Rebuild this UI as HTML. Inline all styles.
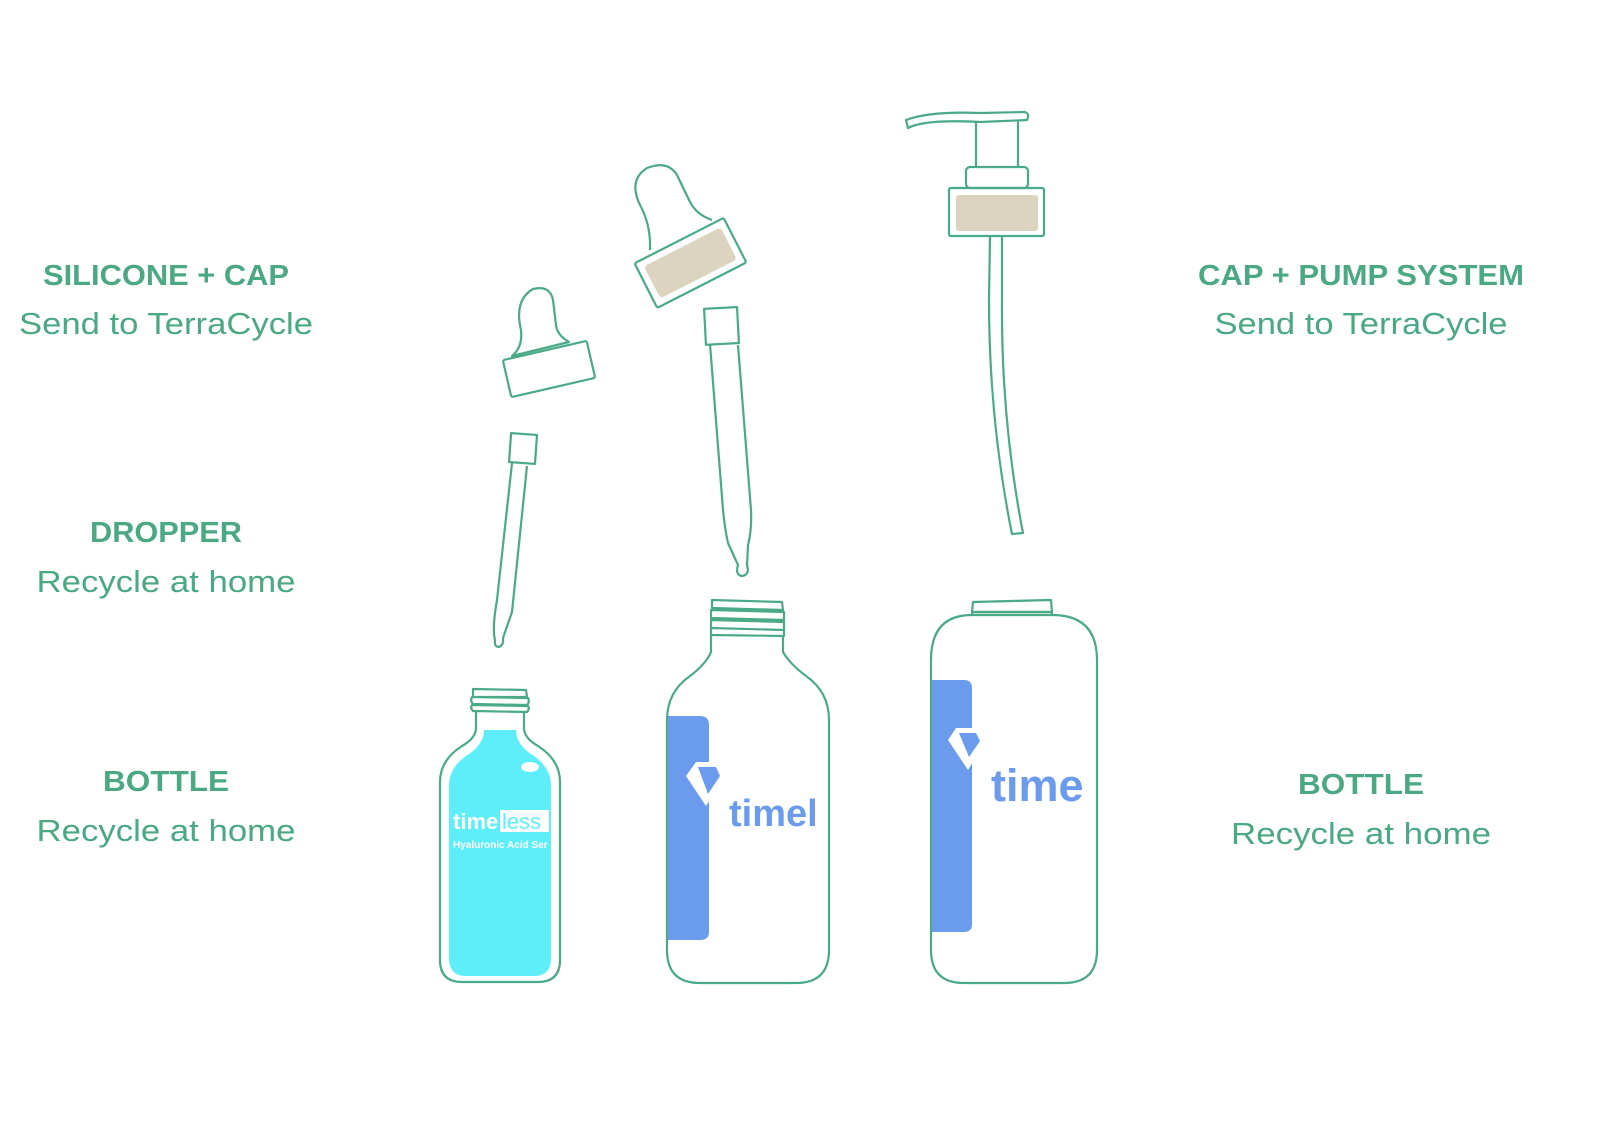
<!DOCTYPE html>
<html><head><meta charset="utf-8"><style>html,body{margin:0;padding:0;background:#fff}svg{display:block}</style></head>
<body>
<svg width="1601" height="1134" viewBox="0 0 1601 1134" xmlns="http://www.w3.org/2000/svg" font-family="Liberation Sans, sans-serif">
<g fill="#4aa882" text-anchor="middle">
<text x="166" y="285" font-size="29" font-weight="bold" textLength="246" lengthAdjust="spacingAndGlyphs">SILICONE + CAP</text>
<text x="166" y="334" font-size="31" textLength="294" lengthAdjust="spacingAndGlyphs">Send to TerraCycle</text>
<text x="166" y="542" font-size="29" font-weight="bold" textLength="152" lengthAdjust="spacingAndGlyphs">DROPPER</text>
<text x="166" y="592" font-size="31" textLength="259" lengthAdjust="spacingAndGlyphs">Recycle at home</text>
<text x="166" y="791" font-size="29" font-weight="bold" textLength="126" lengthAdjust="spacingAndGlyphs">BOTTLE</text>
<text x="166" y="841" font-size="31" textLength="259" lengthAdjust="spacingAndGlyphs">Recycle at home</text>
<text x="1361" y="285" font-size="29" font-weight="bold" textLength="326" lengthAdjust="spacingAndGlyphs">CAP + PUMP SYSTEM</text>
<text x="1361" y="334" font-size="31" textLength="293" lengthAdjust="spacingAndGlyphs">Send to TerraCycle</text>
<text x="1361" y="794" font-size="29" font-weight="bold" textLength="126" lengthAdjust="spacingAndGlyphs">BOTTLE</text>
<text x="1361" y="844" font-size="31" textLength="260" lengthAdjust="spacingAndGlyphs">Recycle at home</text>
</g>
<g fill="none" stroke="#4aaa85" stroke-width="2.2" stroke-linejoin="round">
<!-- small bottle -->
<path d="M476,712 L476,728 Q476,738 462,746 Q440,760 440,782 L440,960 Q440,982 462,982 L538,982 Q560,982 560,960 L560,782 Q560,760 538,746 Q524,738 524,728 L524,712" />
<path d="M449,786 Q449,768 466,756 Q484,745 484,730 L516,730 Q516,745 534,756 Q551,768 551,786 L551,958 Q551,976 534,976 L466,976 Q449,976 449,958 Z" fill="#5eeefa" stroke="none"/>
<path d="M473,689 L526,690 L527,697 L473,697 Z M472,697 L528,698 Q530,702 527,705 L473,704 Q470,701 472,697 Z M472,705 L528,706 Q530,709 527,712 L473,711 Q470,708 472,705 Z"/>
<!-- small dropper -->
<path d="M521,330 Q514,300 533,289 Q550,285 553,300 L556,325 Q557,335 569,342 L512,356 Q523,347 521,330 Z"/>
<g transform="rotate(-13 549 369)"><rect x="506" y="350" width="86" height="38" rx="2"/></g>
<rect x="510" y="434" width="26" height="29" transform="rotate(4 523 449)"/>
<path d="M512,463 L497,600 Q492,628 495,640 Q494,647 499,647 Q504,645 503,638 L512,612 L527,466"/>
<!-- medium bottle -->
<path d="M711,635 L711,652 Q706,664 690,676 Q667,692 667,720 L667,950 Q667,983 700,983 L796,983 Q829,983 829,950 L829,720 Q829,692 806,676 Q790,664 783,652 L783,635"/>
<path d="M712,600 L782,602 L783,610 L712,608 Z M711,610 L784,612 L784,620 L711,618 Z M711,620 L784,622 L784,630 L711,628 Z M711,628 L784,630 L784,636 L711,635 Z"/>
<!-- medium dropper -->
<path d="M650,250 Q651,225 640,205 Q628,180 647,168 Q668,160 677,175 L690,202 Q697,215 712,220"/>
<g transform="rotate(-27 690 262)"><rect x="640" y="238" width="100" height="50" rx="2"/><rect x="647" y="245" width="86" height="36" rx="4" fill="#ddd3c1" stroke="none"/></g>
<rect x="705" y="308" width="33" height="36" transform="rotate(-3 721 326)"/>
<path d="M710,344 L723,510 Q725,530 728,543 L738,565 Q735,575 742,576 Q750,575 747,565 L748,545 Q752,530 751,510 L738,345"/>
<!-- large bottle -->
<path d="M972,615 L972,612 L1052,612 L1052,615 M972,615 Q931,615 931,660 L931,950 Q931,983 964,983 L1064,983 Q1097,983 1097,950 L1097,660 Q1097,615 1052,615 Z"/>
<path d="M973,602 L1051,600 L1052,612 L972,612 Z"/>
<!-- pump -->
<path d="M906,120 Q930,111 980,113 L1025,112 Q1030,114 1027,120 L980,122 Q925,119 908,128 Z"/>
<path d="M976,122 L976,167 M1018,120 L1018,167"/>
<rect x="966" y="167" width="62" height="21" rx="4"/>
<rect x="949" y="188" width="95" height="48" rx="2"/>
<path d="M990,236 L989,300 Q989,420 1012,534 L1023,533 Q1001,420 1002,300 L1002,236"/>
</g>
<rect x="956" y="195" width="82" height="36" rx="3" fill="#ddd3c1"/>
<!-- labels blue -->
<path d="M668,716 L700,716 Q709,716 709,725 L709,932 Q709,940 700,940 L668,940 Z" fill="#6b9bec"/>
<path d="M932,680 L964,680 Q972,680 972,688 L972,924 Q972,932 964,932 L932,932 Z" fill="#6b9bec"/>
<g fill="#fff"><path d="M686,776 L696,762 L718,762 L726,776 L706,806 Z"/></g>
<path d="M698,767 L716,767 L720,776 L708,794 Z" fill="#6b9bec"/>
<g fill="#fff"><path d="M948,740 L956,728 L978,728 L986,740 L968,770 Z"/></g>
<path d="M959,733 L976,733 L980,741 L969,757 Z" fill="#6b9bec"/>
<g font-weight="bold">
<text x="729" y="826" font-size="38" fill="#6b9bec">timel</text>
<text x="991" y="801" font-size="45" fill="#6b9bec">time</text>
<text x="453" y="829" font-size="22" fill="#fff">time<tspan font-weight="normal" fill="#5eeefa" style="paint-order:stroke" stroke="#fff" stroke-width="0">less</tspan></text>
<text x="453" y="848" font-size="10" fill="#fff">Hyaluronic Acid Ser</text>
</g>
<rect x="500" y="810" width="49" height="22" fill="#fff"/>
<text x="502" y="829" font-size="22" fill="#5eeefa">less</text>
<ellipse cx="530" cy="767" rx="9" ry="5" fill="#fff"/>
</svg>
</body></html>
